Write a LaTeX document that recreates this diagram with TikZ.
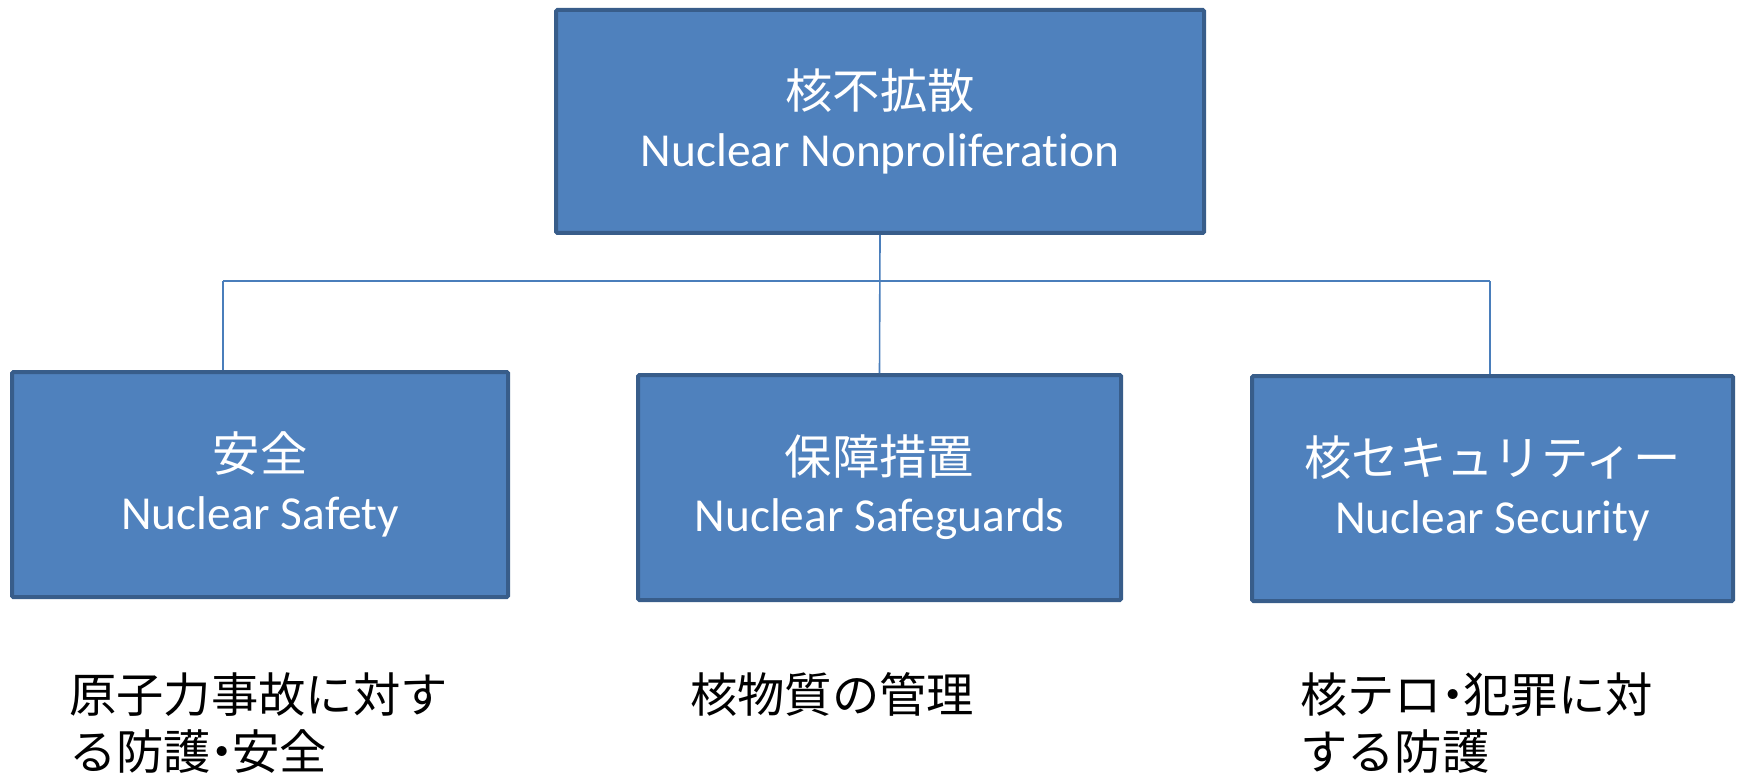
\documentclass[tikz,border=0pt]{standalone}
\usepackage{fontspec}
\setmainfont[Ligatures=NoCommon]{Carlito}
\newfontfamily\jp{Noto Sans CJK JP}
\definecolor{boxfill}{HTML}{4F81BD}
\definecolor{boxline}{HTML}{385D8A}
\definecolor{conn}{HTML}{4A7EBB}
\newcommand{\nakaguro}{\makebox[0.45em][c]{・}}
\begin{document}
\begin{tikzpicture}[x=0.75pt,y=-0.75pt,
  box/.style={draw=boxline, line width=3pt, fill=boxfill, rounded corners=1pt,
    text=white, align=center, inner sep=0pt,
    font=\fontsize{35.5pt}{43pt}\selectfont},
  note/.style={text=black, align=left, inner sep=0pt, anchor=north west,
    font=\jp\fontsize{35.5pt}{43pt}\selectfont},
  connector/.style={draw=conn, line width=1.2pt}]
\useasboundingbox (0,0) rectangle (1740,777);

\node[box, minimum width=486pt, minimum height=167.25pt] (top) at (880,121.5)
  {{\jp 核不拡散}\\Nuclear Nonproliferation};
\node[box, minimum width=372pt, minimum height=168.75pt] (safety) at (260,484.5)
  {{\jp 安全}\\Nuclear Safety};
\node[box, minimum width=362.25pt, minimum height=168.75pt] (safeguards) at (879.5,487.5)
  {{\jp 保障措置}\\Nuclear Safeguards};
\node[box, minimum width=360.75pt, minimum height=168.75pt] (security) at (1492.5,488.5)
  {{\jp 核セキュリティー}\\Nuclear Security};

\coordinate (hl) at (223,281);
\coordinate (hr) at (1490,281);
\draw[connector] (top.south) -- (safeguards.north);
\draw[connector] (hl) -- (hr);
\draw[connector] (hl) -- (hl |- safety.north);
\draw[connector] (hr) -- (hr |- security.north);

\node[note] (n1) at (69,672) {原子力事故に対す\\る防護\nakaguro 安全};
\node[note] (n2) at (690,672) {核物質の管理};
\node[note] (n3) at (1300,672) {核テロ\nakaguro 犯罪に対\\する防護};
\end{tikzpicture}
\end{document}
